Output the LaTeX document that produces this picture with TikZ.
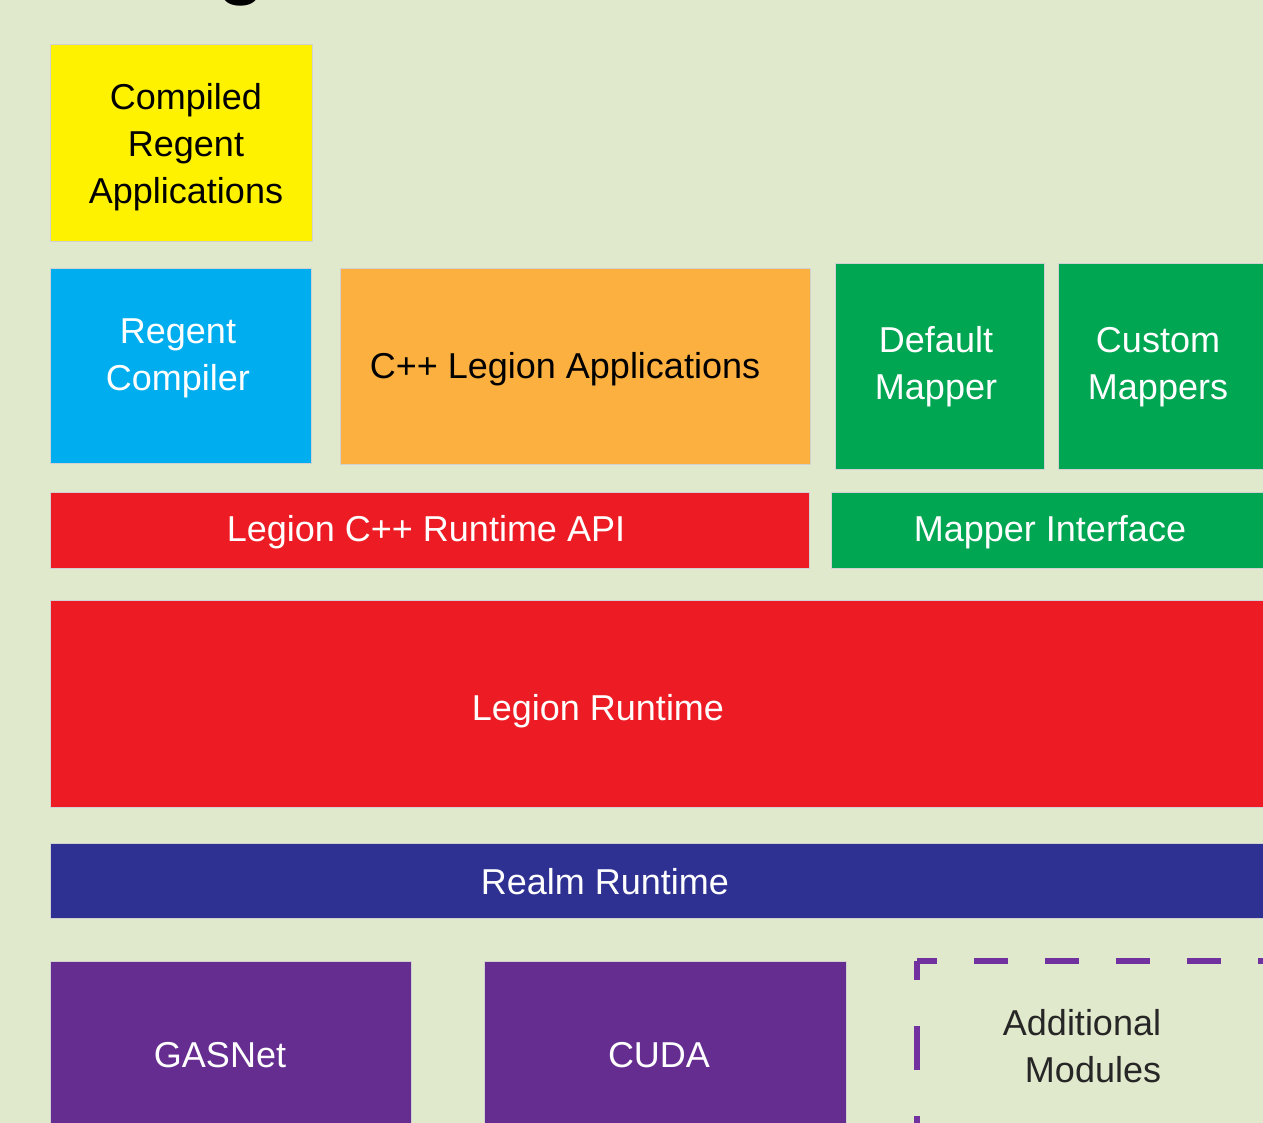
\documentclass[tikz,border=0pt]{standalone}
\usepackage{fontspec}
\setmainfont{Liberation Sans}
\definecolor{bg}{HTML}{E1E9CC}
\definecolor{cyellow}{HTML}{FFF200}
\definecolor{cblue}{HTML}{00AEEF}
\definecolor{corange}{HTML}{FBB040}
\definecolor{cgreen}{HTML}{00A651}
\definecolor{cred}{HTML}{ED1C24}
\definecolor{cnavy}{HTML}{2E3192}
\definecolor{cpurple}{HTML}{662D91}
\definecolor{cdash}{HTML}{7132A0}
\begin{document}
\begin{tikzpicture}[x=1pt,y=-1pt,
  lbl/.style={align=center,inner sep=0pt,font=\fontsize{36}{47}\selectfont},
  wlbl/.style={lbl,text=white},
  klbl/.style={lbl,text=black},
  blk/.style={draw=black!18,line width=0.8pt}]
\useasboundingbox (0,0) rectangle (1263,1123);
\clip (0,0) rectangle (1263,1123);
\fill[bg] (0,0) rectangle (1263,1123);
% fragment of title
\node[anchor=base west,inner sep=0pt,font=\fontsize{90}{90}\selectfont] (title) at (216,-12) {g};
% boxes
\filldraw[blk,fill=cyellow] (50,44) rectangle (312,241);
\filldraw[blk,fill=cblue] (50,268) rectangle (311,463);
\filldraw[blk,fill=corange] (340,268) rectangle (810,464);
\filldraw[blk,fill=cgreen] (835,263) rectangle (1044,469);
\filldraw[blk,fill=cgreen] (1058,263) rectangle (1300,469);
\filldraw[blk,fill=cred] (50,492) rectangle (809,568);
\filldraw[blk,fill=cgreen] (831,492) rectangle (1300,568);
\filldraw[blk,fill=cred] (50,600) rectangle (1300,807);
\filldraw[blk,fill=cnavy] (50,843) rectangle (1300,918);
\filldraw[blk,fill=cpurple] (50,961) rectangle (411,1200);
\filldraw[blk,fill=cpurple] (484,961) rectangle (846,1200);
% dashed module box
\draw[cdash,line width=6pt,dash pattern=on 34pt off 37pt,dash phase=14pt] (917,961) -- (1300,961);
\draw[cdash,line width=6pt,dash pattern=on 44pt off 46pt,dash phase=25pt] (917,961) -- (917,1200);
% labels
\node[klbl] (cra) at (186,147) {Compiled\\Regent\\Applications};
\node[wlbl] (rc) at (178,358) {Regent\\Compiler};
\node[klbl] (cla) at (565,369) {C++ Legion Applications};
\node[wlbl] (dm) at (936,367) {Default\\Mapper};
\node[wlbl] (cm) at (1158,367) {Custom\\Mappers};
\node[wlbl] (lapi) at (426,532) {Legion C++ Runtime API};
\node[wlbl] (mi) at (1050,532) {Mapper Interface};
\node[wlbl] (lr) at (598,711) {Legion Runtime};
\node[wlbl] (rr) at (605,882) {Realm Runtime};
\node[wlbl] (gas) at (220,1055) {GASNet};
\node[wlbl] (cuda) at (659,1055) {CUDA};
\node[klbl,text=black!85,align=right] (am) at (1082,1046) {Additional\\Modules};
\end{tikzpicture}
\end{document}
